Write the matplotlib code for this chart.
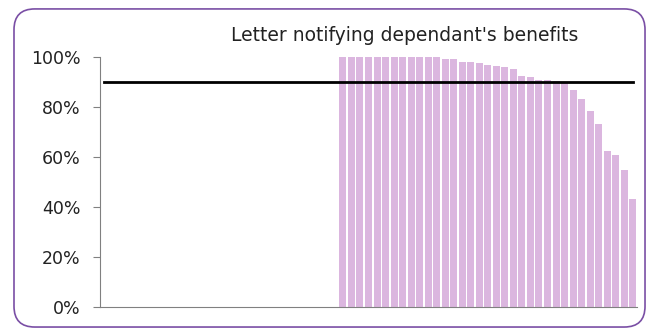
import matplotlib.pyplot as plt
import numpy as np
from matplotlib.patches import FancyBboxPatch
from matplotlib.ticker import PercentFormatter

# 63 categories on the x axis, only the last 35 have a value
n_categories = 63
n_empty = 28
scores = [100, 100, 100, 100, 100, 100, 100, 100, 100, 100, 100, 100,
          99.4, 99.4, 98.3, 98.3, 97.8, 97.0, 96.4, 96.0, 95.4, 92.4, 92.0,
          91.0, 90.8, 90.5, 90.3, 86.9, 83.3, 78.3, 73.2, 62.3, 60.8, 54.7, 43.1]
values = [np.nan] * n_empty + scores
target = [90] * n_categories
title = "Letter notifying dependant's benefits"

fig = plt.figure(figsize=(6.48, 3.31), dpi=100)
ax = fig.add_axes([0.1543, 0.0725, 0.8287, 0.7544])

x = np.arange(n_categories)
ax.bar(x, values, width=0.82, color='#dbb6df', edgecolor='none')
ax.plot(x, target, color='black', lw=2.0)

ax.set_xlim(-0.5, n_categories - 0.5)
ax.set_ylim(0, 100)
ax.set_yticks([0, 20, 40, 60, 80, 100])
ax.yaxis.set_major_formatter(PercentFormatter(decimals=0))
ax.set_xticks([])
ax.tick_params(axis='y', length=5, width=0.8, color='#808080', pad=9,
               labelsize=12.5, labelcolor='#222222')
for side in ['top', 'right']:
    ax.spines[side].set_visible(False)
for side in ['left', 'bottom']:
    ax.spines[side].set_color('#808080')
    ax.spines[side].set_linewidth(0.8)

fig.text(0.625, 0.893, title, ha='center', va='center', fontsize=13.5,
         color='#222222')

# rounded purple frame around the chart
frame = FancyBboxPatch((0.0216, 0.012), 0.9738, 0.961,
                       boxstyle="round,pad=0,rounding_size=0.032",
                       mutation_aspect=648 / 331,
                       transform=fig.transFigure, fill=False,
                       edgecolor='#7a4fa5', lw=1.2, zorder=-1)
fig.patches.append(frame)

fig.savefig('out.png', dpi=100)
